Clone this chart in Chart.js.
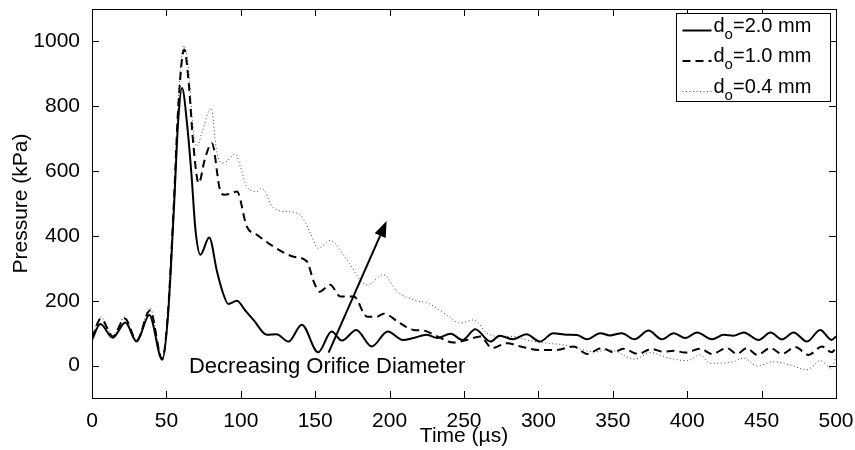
<!DOCTYPE html>
<html lang="en">
<head>
    <meta charset="UTF-8">
    <title>Pressure vs Time</title>
    <script src="https://cdn.jsdelivr.net/npm/chart.js"></script>
    <style>
        html, body { margin: 0; padding: 0; background: #fff; }
        canvas { display: block; }
    </style>
</head>
<body>
    <canvas id="grafico" width="855" height="450"></canvas>

    <script>
        // d_o = 2.0 mm (solid)
        const solidT = [0, 5.6, 14, 22.4, 30, 38.5, 47.2, 51, 55, 58, 60.5, 64, 67, 69.5, 72.8, 78.8, 84, 88, 91.6, 97.4, 103, 108.5, 117.6, 124, 132, 141, 152, 161, 168, 177.6, 188, 198.7, 209, 216, 225, 232, 241, 249, 257.6, 267.7, 274, 283, 292, 301, 310, 319, 326, 332.6, 341.6, 348, 356, 364.5, 374, 383, 391, 398.7, 406.6, 416.7, 424.5, 431, 438, 448, 456, 463.7, 471.5, 480.5, 489.4, 497, 500];
        const solidP = [80, 128, 86, 133, 74, 156, 18, 150, 480, 760, 856, 740, 580, 420, 342, 395, 290, 224, 190, 200, 170, 141, 95, 97, 74, 126, 41, 105, 77, 110, 59, 105, 79, 85, 95, 85, 98, 79, 112, 74, 92, 81, 97, 74, 100, 95, 94, 81, 100, 93, 100, 81, 108, 81, 100, 85, 102, 81, 95, 92, 102, 79, 102, 81, 102, 74, 110, 79, 90];

        // d_o = 1.0 mm (dashed)
        const dashT = [0, 6, 14, 22, 30, 39, 47.2, 51, 55, 58, 62, 65, 68, 71.7, 76, 80.6, 86, 89, 93, 97.4, 104, 111, 122, 135.5, 144.5, 149, 153, 160, 167, 176, 184.8, 191.5, 196, 207, 216, 223, 232, 243, 252, 261, 268.8, 279, 288, 301, 312, 323.6, 332.6, 342.7, 350.5, 357, 367, 376, 384, 391, 398.7, 408.8, 416.7, 426.7, 433.5, 440, 447, 456, 463.7, 472.6, 481.5, 490.6, 497, 500];
        const dashP = [85, 145, 90, 145, 78, 170, 20, 160, 500, 800, 975, 872, 687, 563, 640, 686, 542, 527, 530, 537, 429, 403, 367, 336, 321, 259, 228, 249, 213, 213, 151, 151, 160, 131, 110, 108, 90, 71, 79, 90, 54, 69, 59, 48, 48, 59, 36, 54, 41, 52, 36, 51, 43, 46, 40, 52, 36, 54, 36, 54, 33, 54, 36, 57, 33, 59, 41, 54];

        // d_o = 0.4 mm (dotted)
        const dotT = [0, 6, 14, 22, 30, 39, 47.2, 51, 55, 58, 61.6, 65, 67.8, 70.5, 74, 80, 84, 88.5, 96.3, 99.7, 104, 111, 114, 122, 131, 140, 146.7, 152, 160, 171.4, 184.8, 196, 205, 216, 227, 238.6, 247.5, 256.5, 265.5, 274, 283, 292, 306, 317, 328, 337, 348, 365, 375, 388, 400, 408.8, 415.5, 431, 438, 447, 458, 469, 480.5, 489.4, 497, 500];
        const dotP = [90, 150, 92, 150, 80, 178, 22, 165, 510, 820, 987, 912, 738, 676, 720, 794, 655, 625, 653, 614, 552, 537, 547, 486, 475, 465, 409, 362, 386, 326, 249, 280, 228, 203, 190, 156, 131, 141, 100, 90, 90, 79, 69, 64, 51, 43, 48, 20, 40, 23, 15, 33, 7, 12, 23, -1, 12, 2, -13, 15, -8, 28];

        const seriesNames = ['2.0 mm', '1.0 mm', '0.4 mm'];
        const xTicks = [0, 50, 100, 150, 200, 250, 300, 350, 400, 450, 500];
        const yTicks = [0, 200, 400, 600, 800, 1000];

        // arrow and label, in data units
        const arrowFrom = { x: 159, y: 40 };
        const arrowTo = { x: 198, y: 446 };
        const noteText = 'Decreasing Orifice Diameter';
        const notePos = { x: 158, y: -5 };

        const FONT = '"Liberation Sans", Arial, Helvetica, sans-serif';
        const FS = 21;
        Chart.defaults.font.family = FONT;
        Chart.defaults.color = '#000';

        function puntos(ts, ps) {
            return ts.map((t, i) => ({ x: t, y: ps[i] }));
        }

        // box, inward ticks, arrow, note and legend
        const extras = {
            id: 'extras',
            afterDraw(chart) {
                const ctx = chart.ctx;
                const a = chart.chartArea;
                const xs = chart.scales.x, ys = chart.scales.y;
                const tl = 7;
                ctx.save();
                ctx.strokeStyle = '#000';
                ctx.lineWidth = 1;
                ctx.setLineDash([]);
                ctx.strokeRect(a.left + 0.5, a.top + 0.5, a.right - a.left, a.bottom - a.top);
                ctx.beginPath();
                xTicks.forEach(v => {
                    const px = Math.round(xs.getPixelForValue(v)) + 0.5;
                    ctx.moveTo(px, a.bottom); ctx.lineTo(px, a.bottom - tl);
                    ctx.moveTo(px, a.top); ctx.lineTo(px, a.top + tl);
                });
                yTicks.forEach(v => {
                    const py = Math.round(ys.getPixelForValue(v)) + 0.5;
                    ctx.moveTo(a.left, py); ctx.lineTo(a.left + tl, py);
                    ctx.moveTo(a.right, py); ctx.lineTo(a.right - tl, py);
                });
                ctx.stroke();

                // arrow
                const x1 = xs.getPixelForValue(arrowFrom.x), y1 = ys.getPixelForValue(arrowFrom.y);
                const x2 = xs.getPixelForValue(arrowTo.x), y2 = ys.getPixelForValue(arrowTo.y);
                const ang = Math.atan2(y2 - y1, x2 - x1);
                const hl = 16, hw = 6;
                ctx.lineWidth = 2;
                ctx.beginPath();
                ctx.moveTo(x1, y1);
                ctx.lineTo(x2 - hl * Math.cos(ang), y2 - hl * Math.sin(ang));
                ctx.stroke();
                ctx.beginPath();
                ctx.moveTo(x2, y2);
                ctx.lineTo(x2 - hl * Math.cos(ang) + hw * Math.sin(ang), y2 - hl * Math.sin(ang) - hw * Math.cos(ang));
                ctx.lineTo(x2 - hl * Math.cos(ang) - hw * Math.sin(ang), y2 - hl * Math.sin(ang) + hw * Math.cos(ang));
                ctx.closePath();
                ctx.fillStyle = '#000';
                ctx.fill();

                // note
                ctx.font = '22px ' + FONT;
                ctx.textAlign = 'center';
                ctx.textBaseline = 'middle';
                ctx.fillText(noteText, xs.getPixelForValue(notePos.x), ys.getPixelForValue(notePos.y));

                // legend
                const bw = 154, bh = 88;
                const bx = a.right - 159.5, by = a.top + 4.5;
                ctx.fillStyle = '#fff';
                ctx.fillRect(bx, by, bw, bh);
                ctx.lineWidth = 1;
                ctx.strokeRect(bx, by, bw, bh);
                chart.data.datasets.forEach((ds, i) => {
                    const cy = by + 12 + i * 30.5;
                    ctx.strokeStyle = ds.borderColor;
                    ctx.lineWidth = ds.borderWidth;
                    ctx.setLineDash(ds.borderDash || []);
                    ctx.beginPath();
                    ctx.moveTo(bx + 6, cy + 5);
                    ctx.lineTo(bx + 35, cy + 5);
                    ctx.stroke();
                    ctx.setLineDash([]);
                    ctx.fillStyle = '#000';
                    ctx.textAlign = 'left';
                    ctx.textBaseline = 'alphabetic';
                    ctx.font = '20px ' + FONT;
                    let tx = bx + 37;
                    ctx.fillText('d', tx, cy + 6);
                    tx += ctx.measureText('d').width;
                    ctx.font = '15px ' + FONT;
                    ctx.fillText('o', tx, cy + 13);
                    tx += ctx.measureText('o').width;
                    ctx.font = '20px ' + FONT;
                    ctx.fillText('=' + seriesNames[i], tx, cy + 6);
                });
                ctx.restore();
            }
        };

        new Chart(document.getElementById('grafico'), {
            type: 'line',
            data: {
                datasets: [
                    {
                        label: seriesNames[0],
                        data: puntos(solidT, solidP),
                        borderColor: '#000',
                        borderWidth: 2,
                        pointRadius: 0,
                        cubicInterpolationMode: 'monotone'
                    },
                    {
                        label: seriesNames[1],
                        data: puntos(dashT, dashP),
                        borderColor: '#000',
                        borderWidth: 2,
                        borderDash: [8, 5],
                        pointRadius: 0,
                        cubicInterpolationMode: 'monotone'
                    },
                    {
                        label: seriesNames[2],
                        data: puntos(dotT, dotP),
                        borderColor: '#444',
                        borderWidth: 1,
                        borderDash: [1, 2.5],
                        pointRadius: 0,
                        cubicInterpolationMode: 'monotone'
                    }
                ]
            },
            options: {
                responsive: false,
                animation: false,
                layout: { padding: { top: 9, right: 19, left: 0, bottom: 0 } },
                plugins: { legend: { display: false }, tooltip: { enabled: false } },
                scales: {
                    x: {
                        type: 'linear',
                        min: 0,
                        max: 500,
                        afterBuildTicks: s => { s.ticks = xTicks.map(v => ({ value: v })); },
                        afterFit: s => { s.height = 52; s.paddingLeft = 0; s.paddingRight = 0; },
                        grid: { display: false },
                        border: { display: false },
                        ticks: { font: { size: FS }, color: '#000', padding: 3, maxRotation: 0, callback: v => String(v) },
                        title: { display: true, text: 'Time (µs)', font: { size: FS }, color: '#000', padding: { top: 0, bottom: 1 } }
                    },
                    y: {
                        min: -100,
                        max: 1100,
                        afterBuildTicks: s => { s.ticks = yTicks.map(v => ({ value: v })); },
                        afterFit: s => { s.width = 92; s.paddingTop = 0; s.paddingBottom = 0; },
                        grid: { display: false },
                        border: { display: false },
                        ticks: { font: { size: FS }, color: '#000', padding: 4, callback: v => String(v) },
                        title: { display: true, text: 'Pressure (kPa)', font: { size: FS }, color: '#000', padding: { top: 9, bottom: 0 } }
                    }
                }
            },
            plugins: [extras]
        });
    </script>
</body>
</html>
